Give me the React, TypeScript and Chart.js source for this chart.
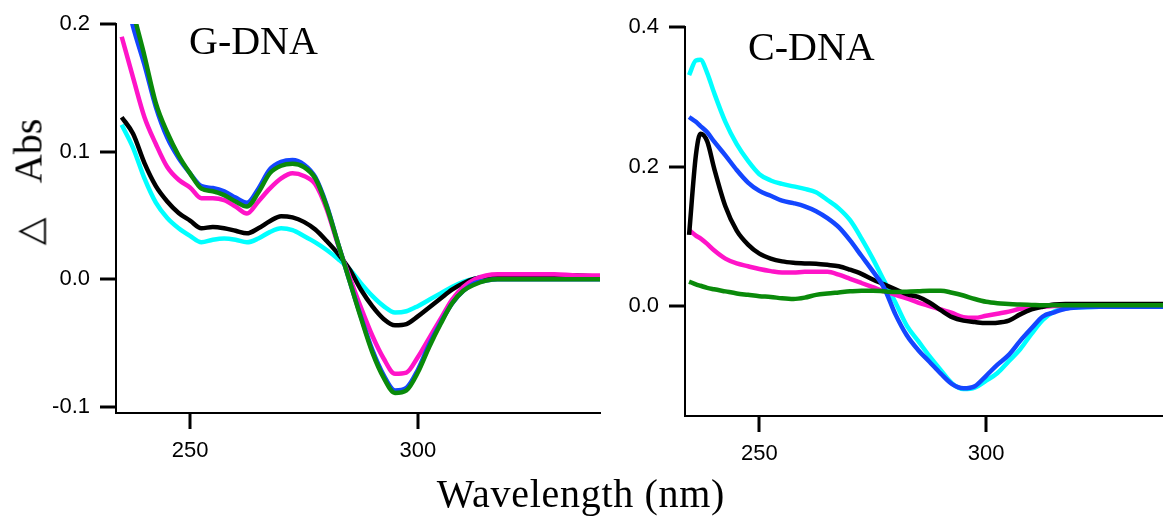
import React, { useEffect, useRef } from "react";
import { Chart, registerables } from "chart.js";

Chart.register(...registerables);

// ---------- G-DNA panel data ----------
const wavelengthsG = [
  235, 237.5, 240, 242.5, 245, 247.5, 250, 252.5, 255, 257.5, 260, 262.5, 265,
  267.5, 270, 272.5, 275, 277.5, 280, 282.5, 285, 287.5, 290, 292.5, 295, 297.5,
  300, 302.5, 305, 307.5, 310, 312.5, 315, 317.5, 320, 325, 330, 335, 340,
];
const cyanG = [
  0.121, 0.103, 0.079, 0.06, 0.048, 0.04, 0.034, 0.029, 0.031, 0.032, 0.031, 0.029,
  0.032, 0.037, 0.04, 0.0385, 0.034, 0.029, 0.023, 0.016, 0.008, -0.003, -0.013,
  -0.021, -0.026, -0.025, -0.021, -0.016, -0.011, -0.006, -0.002, 0.0005, 0.002,
  0.0025, 0.003, 0.003, 0.003, 0.002, 0.002,
];
const blackG = [
  0.127, 0.114, 0.091, 0.073, 0.061, 0.052, 0.046, 0.04, 0.041, 0.04, 0.038, 0.036,
  0.04, 0.0455, 0.0495, 0.0485, 0.045, 0.039, 0.03, 0.02, 0.008, -0.008, -0.021,
  -0.031, -0.036, -0.035, -0.029, -0.022, -0.015, -0.008, -0.003, 0.0005, 0.002,
  0.003, 0.003, 0.003, 0.003, 0.003, 0.002,
];
const magentaG = [
  0.19, 0.158, 0.127, 0.106, 0.088, 0.078, 0.072, 0.0635, 0.0635, 0.062, 0.057,
  0.0515, 0.061, 0.071, 0.079, 0.083, 0.081, 0.0745, 0.055, 0.027, 0.002, -0.022,
  -0.044, -0.062, -0.074, -0.073, -0.061, -0.046, -0.031, -0.016, -0.006, 0.0, 0.003,
  0.004, 0.004, 0.004, 0.004, 0.003, 0.003,
];
const blueG = [
  0.235, 0.198, 0.168, 0.135, 0.111, 0.095, 0.083, 0.073, 0.0715, 0.069, 0.064,
  0.06, 0.071, 0.086, 0.092, 0.0935, 0.09, 0.08, 0.058, 0.028, -0.001, -0.029,
  -0.055, -0.075, -0.087, -0.085, -0.071, -0.051, -0.034, -0.019, -0.009, -0.003,
  -0.001, 0.0, 0.0, 0.0, 0.0, 0.0, 0.0,
];
const greenG = [
  0.25, 0.21, 0.175, 0.138, 0.115, 0.097, 0.083, 0.071, 0.069, 0.066, 0.061, 0.057,
  0.068, 0.083, 0.089, 0.0905, 0.088, 0.079, 0.057, 0.028, -0.001, -0.03, -0.057,
  -0.077, -0.089, -0.087, -0.073, -0.053, -0.035, -0.019, -0.009, -0.004, -0.001,
  0.0, 0.0, 0.0, 0.0, 0.0, 0.0,
];
const yTicksG = [-0.1, 0.0, 0.1, 0.2];

// ---------- C-DNA panel data ----------
const wavelengthsC = [
  234.5, 236, 237, 238.5, 240, 242.5, 245, 247.5, 250, 252.5, 255, 257.5, 260,
  262.5, 265, 267.5, 270, 272.5, 275, 277.5, 280, 282.5, 285, 287.5, 290, 292.5,
  295, 297.5, 300, 302.5, 305, 307.5, 310, 312.5, 315, 317.5, 320, 325, 330, 335,
  339,
];
const cyanC = [
  0.331, 0.352, 0.353, 0.334, 0.306, 0.264, 0.232, 0.208, 0.189, 0.18, 0.175,
  0.1715, 0.168, 0.163, 0.152, 0.14, 0.123, 0.097, 0.068, 0.036, 0.005, -0.028,
  -0.05, -0.072, -0.092, -0.111, -0.119, -0.117, -0.107, -0.096, -0.079, -0.062,
  -0.04, -0.02, -0.008, -0.003, -0.002, -0.001, -0.001, -0.001, -0.001,
];
const blueC = [
  0.271, 0.264, 0.258, 0.249, 0.236, 0.216, 0.195, 0.177, 0.165, 0.158, 0.151,
  0.1475, 0.143, 0.136, 0.126, 0.113, 0.094, 0.072, 0.05, 0.026, -0.012, -0.042,
  -0.063, -0.08, -0.097, -0.112, -0.118, -0.115, -0.1, -0.084, -0.07, -0.05,
  -0.032, -0.015, -0.009, -0.004, -0.002, -0.001, -0.001, -0.001, -0.001,
];
const blackC = [
  0.102, 0.216, 0.247, 0.236, 0.198, 0.143, 0.108, 0.088, 0.075, 0.068, 0.064,
  0.062, 0.061, 0.0605, 0.059, 0.057, 0.052, 0.046, 0.038, 0.031, 0.024, 0.017,
  0.013, 0.005, -0.006, -0.016, -0.021, -0.023, -0.0245, -0.024, -0.021, -0.012,
  -0.005, -0.001, 0.002, 0.003, 0.003, 0.003, 0.003, 0.003, 0.003,
];
const magentaC = [
  0.109, 0.101, 0.097, 0.089, 0.08, 0.068, 0.061, 0.057, 0.053, 0.05, 0.048, 0.048,
  0.049, 0.049, 0.049, 0.045, 0.039, 0.033, 0.027, 0.021, 0.016, 0.011, 0.005, 0.0,
  -0.005, -0.01, -0.016, -0.017, -0.014, -0.011, -0.008, -0.004, -0.002, -0.001,
  0.0, 0.0, 0.0, 0.0, 0.0, 0.0, 0.0,
];
const greenC = [
  0.035, 0.031, 0.029, 0.026, 0.024, 0.021, 0.018, 0.016, 0.014, 0.013, 0.011,
  0.01, 0.012, 0.016, 0.018, 0.0195, 0.021, 0.022, 0.022, 0.021, 0.02, 0.0205,
  0.021, 0.022, 0.022, 0.019, 0.015, 0.01, 0.006, 0.004, 0.003, 0.002, 0.0015,
  0.001, 0.001, 0.001, 0.001, 0.001, 0.001, 0.001, 0.001,
];
const yTicksC = [0.0, 0.2, 0.4];

const xTicks = [250, 300];

const COLORS = {
  cyan: "#00FFFF",
  black: "#000000",
  magenta: "#FF14C8",
  blue: "#1446FF",
  green: "#0A8A0A",
};

const TICK_LEN = 16;

type Series = { label: string; color: string; values: number[] };

type PanelProps = {
  left: number;
  width: number;
  height: number;
  wavelengths: number[];
  series: Series[];
  xMin: number;
  xMax: number;
  yMin: number;
  yMax: number;
  yTicks: number[];
  yAxisWidth: number;
  xAxisHeight: number;
  padTop: number;
  padRight: number;
};

const tickFont = { family: "'Liberation Sans', Arial, sans-serif", size: 22 };

// Outward tick marks drawn at the scales' own tick positions
const tickMarksPlugin = {
  id: "tickMarks",
  afterDraw(chart: any) {
    const ctx = chart.ctx;
    const xs = chart.scales.x;
    const ys = chart.scales.y;
    const area = chart.chartArea;
    ctx.save();
    ctx.globalAlpha = 1;
    ctx.globalCompositeOperation = "source-over";
    ctx.strokeStyle = "rgb(0, 0, 0)";
    ctx.lineWidth = 3;
    ctx.lineCap = "butt";
    ctx.setLineDash([]);
    xs.ticks.forEach((t: any) => {
      const px = Math.round(xs.getPixelForValue(t.value));
      ctx.beginPath();
      ctx.moveTo(px, area.bottom);
      ctx.lineTo(px, area.bottom + TICK_LEN);
      ctx.stroke();
    });
    ys.ticks.forEach((t: any) => {
      const py = Math.round(ys.getPixelForValue(t.value));
      ctx.beginPath();
      ctx.moveTo(area.left - TICK_LEN, py);
      ctx.lineTo(area.left, py);
      ctx.stroke();
    });
    ctx.restore();
  },
};

function Panel(p: PanelProps) {
  const ref = useRef<HTMLCanvasElement>(null);
  useEffect(() => {
    if (!ref.current) return;
    const chart = new Chart(ref.current, {
      type: "line",
      data: {
        datasets: p.series.map((s) => ({
          label: s.label,
          data: p.wavelengths.map((w, i) => ({ x: w, y: s.values[i] })),
          borderColor: s.color,
          backgroundColor: s.color,
          borderWidth: 4.5,
          pointRadius: 0,
          cubicInterpolationMode: "monotone",
          fill: false,
        })),
      },
      plugins: [tickMarksPlugin],
      options: {
        responsive: false,
        animation: false,
        events: [],
        layout: { padding: { top: p.padTop, right: p.padRight, left: 0, bottom: 0 } },
        plugins: { legend: { display: false }, tooltip: { enabled: false } },
        scales: {
          x: {
            type: "linear",
            min: p.xMin,
            max: p.xMax,
            afterBuildTicks: (s: any) => {
              s.ticks = xTicks.map((v) => ({ value: v }));
            },
            afterFit: (s: any) => {
              s.height = p.xAxisHeight;
            },
            ticks: {
              font: tickFont,
              color: "#000",
              padding: 9,
              maxRotation: 0,
              callback: (v: any) => String(v),
            },
            grid: {
              drawOnChartArea: false,
              drawTicks: true,
              tickLength: TICK_LEN,
              color: "#000",
              tickColor: "#000",
              lineWidth: 2,
              tickWidth: 2,
            },
            border: { display: true, color: "#000", width: 2 },
          },
          y: {
            type: "linear",
            min: p.yMin,
            max: p.yMax,
            afterBuildTicks: (s: any) => {
              s.ticks = p.yTicks.map((v) => ({ value: v }));
            },
            afterFit: (s: any) => {
              s.width = p.yAxisWidth;
            },
            ticks: {
              font: tickFont,
              color: "#000",
              padding: 10,
              callback: (v: any) => Number(v).toFixed(1),
            },
            grid: {
              drawOnChartArea: false,
              drawTicks: true,
              tickLength: TICK_LEN,
              color: "#000",
              tickColor: "#000",
              lineWidth: 2,
              tickWidth: 2,
            },
            border: { display: true, color: "#000", width: 2 },
          },
        },
      },
    } as any);
    return () => chart.destroy();
  }, []);
  return (
    <canvas
      ref={ref}
      width={p.width}
      height={p.height}
      style={{ position: "absolute", left: p.left, top: 0, width: p.width, height: p.height }}
    />
  );
}

const serif = "'Liberation Serif', 'Times New Roman', serif";

export default function App() {
  const seriesG: Series[] = [
    { label: "green", color: COLORS.green, values: greenG },
    { label: "blue", color: COLORS.blue, values: blueG },
    { label: "magenta", color: COLORS.magenta, values: magentaG },
    { label: "black", color: COLORS.black, values: blackG },
    { label: "cyan", color: COLORS.cyan, values: cyanG },
  ];
  const seriesC: Series[] = [
    { label: "green", color: COLORS.green, values: greenC },
    { label: "blue", color: COLORS.blue, values: blueC },
    { label: "black", color: COLORS.black, values: blackC },
    { label: "magenta", color: COLORS.magenta, values: magentaC },
    { label: "cyan", color: COLORS.cyan, values: cyanC },
  ];
  return (
    <div
      style={{
        position: "absolute",
        left: 0,
        top: 0,
        width: 1163,
        height: 521,
        background: "#fff",
        overflow: "hidden",
      }}
    >
      <Panel
        left={0}
        width={620}
        height={521}
        wavelengths={wavelengthsG}
        series={seriesG}
        xMin={233.75}
        xMax={340}
        yMin={-0.1047}
        yMax={0.2}
        yTicks={yTicksG}
        yAxisWidth={116}
        xAxisHeight={108}
        padTop={24}
        padRight={20}
      />
      <Panel
        left={620}
        width={543}
        height={521}
        wavelengths={wavelengthsC}
        series={seriesC}
        xMin={233.6}
        xMax={339}
        yMin={-0.1577}
        yMax={0.4}
        yTicks={yTicksC}
        yAxisWidth={65}
        xAxisHeight={105}
        padTop={27}
        padRight={0}
      />
      <div
        style={{
          position: "absolute",
          left: 189,
          top: 21,
          font: `40px ${serif}`,
          lineHeight: "40px",
          whiteSpace: "nowrap",
          color: "#000",
        }}
      >
        G-DNA
      </div>
      <div
        style={{
          position: "absolute",
          left: 748,
          top: 27,
          font: `40px ${serif}`,
          lineHeight: "40px",
          whiteSpace: "nowrap",
          color: "#000",
        }}
      >
        C-DNA
      </div>
      <div
        style={{
          position: "absolute",
          left: 581,
          top: 474,
          transform: "translateX(-50%)",
          font: `40px ${serif}`,
          lineHeight: "40px",
          letterSpacing: "0.7px",
          whiteSpace: "nowrap",
          color: "#000",
        }}
      >
        Wavelength (nm)
      </div>
      <div
        style={{
          position: "absolute",
          left: 29,
          top: 182,
          transform: "translate(-50%, -50%) rotate(-90deg)",
          font: `40px ${serif}`,
          lineHeight: "40px",
          whiteSpace: "pre",
          color: "#000",
        }}
      >
        <span style={{ fontSize: 36, marginRight: 34 }}>△</span>
        Abs
      </div>
    </div>
  );
}
